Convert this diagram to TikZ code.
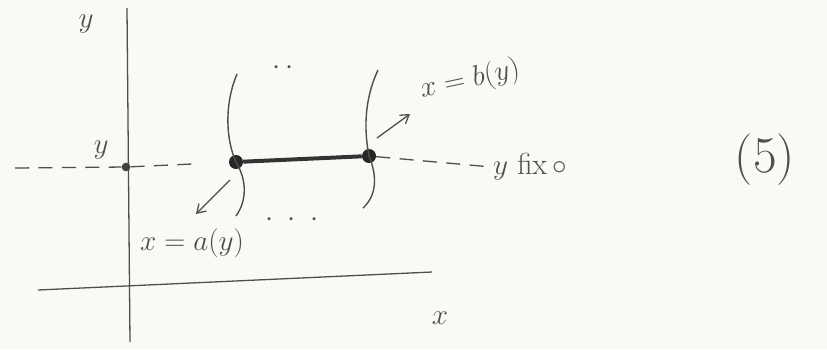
\documentclass[tikz,border=0pt]{standalone}
\definecolor{pencil}{RGB}{80, 78, 76}
\definecolor{paper}{RGB}{251, 249, 245}
\usetikzlibrary{arrows,arrows.meta,positioning}

\begin{document}
\begin{tikzpicture}[x=0.3mm, y=-0.3mm, font=\fontsize{26}{30}\selectfont]
                \tikzstyle{axis} = [draw, pencil, line width=1.1pt]
                \tikzstyle{guide} = [draw, pencil, line width=1.1pt, dash pattern=on 12pt off 8pt]
                \tikzstyle{edge} = [draw, pencil, line width=1.2pt]
                \tikzstyle{line} = [draw, -{Straight Barb[length=7pt, width=9pt]}, line width=1.1pt, pencil]
                \tikzstyle{dot} = [circle, fill=black!85, inner sep=0pt, minimum size=4.2mm]
                \tikzstyle{smalldot} = [circle, fill=black!75, inner sep=0pt, minimum size=2.6mm]
                \tikzstyle{lbl} = [text=pencil, inner sep=1pt]

                \fill [paper] (0,0) rectangle (827,349);
                \useasboundingbox (0,0) rectangle (827,349);

                % axes
                \coordinate (ytop) at (127,8);
                \coordinate (ybot) at (130,342);
                \coordinate (xl) at (38,290);
                \coordinate (xr) at (432,272);
                \path [axis] (ytop) -- (ybot);
                \path [axis] (xl) -- (xr);
                \node [lbl] (ylab) at (86,24) {$y$};
                \node [lbl] (xlab) at (440,318) {$x$};

                % points on the fixed line
                \node [smalldot] (y0) at (126,167) {};
                \node [dot] (pa) at (236,162) {};
                \node [dot] (pb) at (369,156) {};
                \node [lbl] (yval) at (101,150) {$y$};
                \coordinate (gl) at (15,168);
                \node [lbl] (fix) at (530,167) {$y$ fix\,$\circ$};
                \node [lbl, font=\fontsize{44}{48}\selectfont] (eqn) at (765,160) {(5)};

                \path [guide] (gl) -- (y0);
                \path [guide, shorten >=28pt] (y0) -- (pa);
                \path [guide] (pb) -- (fix.west);
                \draw [line width=3.4pt, black!80] (pa) -- (pb);

                % boundary curves
                \draw [edge] (237,74) .. controls (224,105) and (226,140) .. (pa.center)
                             .. controls (248,182) and (246,202) .. (236,216);
                \draw [edge] (378,70) .. controls (364,100) and (364,130) .. (pb.center)
                             .. controls (378,178) and (376,196) .. (363,208);
                \node [lbl] (dtop) at (283,68) {$\cdot\,\cdot$};
                \node [lbl] (dbot) at (292,220) {$\cdot\;\cdot\;\cdot$};

                % labels of the boundaries
                \coordinate (aend) at (196,214);
                \coordinate (bend) at (410,114);
                \path [line] ([shift={(-6,18)}]pa.center) -- (aend);
                \path [line] ([shift={(8,-18)}]pb.center) -- (bend);
                \node [lbl] (alab) at (192,243) {$x=a(y)$};
                \node [lbl, rotate=12] (blab) at (470,80) {$x=b(y)$};
            \end{tikzpicture}
\end{document}
